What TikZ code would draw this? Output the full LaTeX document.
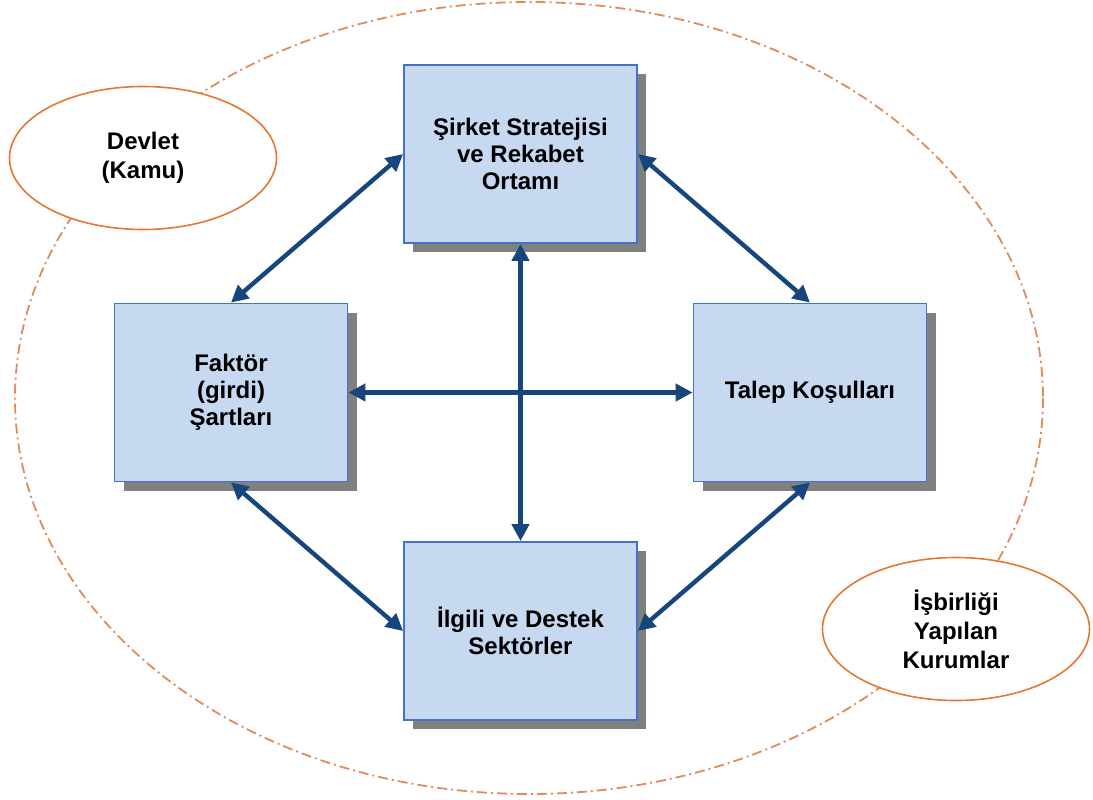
\documentclass[tikz,border=0pt]{standalone}
\usepackage{fontspec}
\setmainfont{Liberation Sans}
\usetikzlibrary{arrows.meta,shapes.geometric,shadows}
\definecolor{boxfill}{RGB}{198,217,241}
\definecolor{boxline}{RGB}{68,114,196}
\definecolor{arrowblue}{RGB}{22,70,125}
\definecolor{ovalline}{RGB}{228,120,50}
\definecolor{dashline}{RGB}{222,140,90}
\begin{document}
\begin{tikzpicture}[x=1pt,y=-1pt,
  factorbox/.style={rectangle, draw=boxline, line width=1.8pt, fill=boxfill,
    minimum width=233pt, minimum height=178pt, inner sep=0pt, align=center,
    font=\fontsize{24}{27}\selectfont\bfseries,
    drop shadow={shadow xshift=9pt, shadow yshift=-9pt, fill=black!50, opacity=1}},
  ovalnode/.style={ellipse, draw=ovalline, line width=1.6pt, fill=white,
    minimum width=267pt, minimum height=143pt, inner sep=0pt, align=center,
    font=\fontsize{24}{29}\selectfont\bfseries},
  link/.style={draw=arrowblue, line width=4.4pt,
    {Triangle[length=17pt,width=17pt]}-{Triangle[length=17pt,width=17pt]}}
]
\useasboundingbox (0,0) rectangle (1093,800);
\draw[dashline, line width=1.8pt, dash pattern=on 10pt off 4pt on 2pt off 4pt]
  (529,398) ellipse [x radius=514, y radius=396];

\node[ovalnode] (devlet) at (143,158) {Devlet\\(Kamu)};
\node[ovalnode] (isbirligi) at (956,629) {İşbirliği\\Yapılan\\Kurumlar};

\node[factorbox] (strateji) at (520.5,154) {Şirket Stratejisi\\ve Rekabet\\Ortamı};
\node[factorbox] (faktor) at (231,392.5) {Faktör\\(girdi)\\Şartları};
\node[factorbox] (talep) at (810,392.5) {Talep Koşulları};
\node[factorbox] (ilgili) at (520.5,631) {İlgili ve Destek\\Sektörler};

\draw[link] (strateji.west) -- (faktor.north);
\draw[link] (strateji.east) -- (talep.north);
\draw[link] (faktor.east) -- (talep.west);
\draw[link] (strateji.south) -- (ilgili.north);
\draw[link] (faktor.south) -- (ilgili.west);
\draw[link] (talep.south) -- (ilgili.east);
\end{tikzpicture}
\end{document}
